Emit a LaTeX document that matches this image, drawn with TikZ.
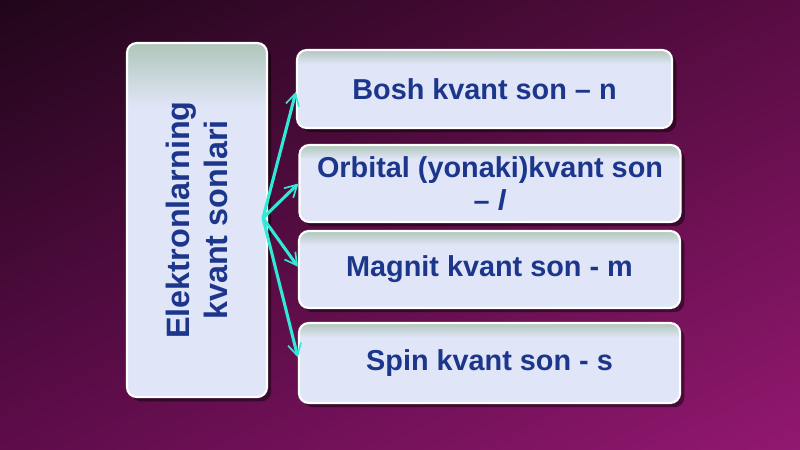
\documentclass[tikz,border=0pt]{standalone}
\usepackage{fontspec}
\setmainfont{Liberation Sans}
\usetikzlibrary{arrows.meta}
\usetikzlibrary{shadows,shadings}
\definecolor{bgdark}{RGB}{32,6,26}
\definecolor{bgright}{RGB}{88,12,66}
\definecolor{bgleft}{RGB}{94,12,74}
\definecolor{bglight}{RGB}{146,24,112}
\definecolor{boxfill}{RGB}{224,229,247}
\definecolor{boxtop}{RGB}{176,198,186}
\definecolor{textblue}{RGB}{28,54,140}
\definecolor{arrowcyan}{RGB}{50,232,214}
\pgfdeclareverticalshading{boxshade}{100bp}{color(0bp)=(boxfill); color(25bp)=(boxfill); color(66bp)=(boxfill); color(75bp)=(boxtop); color(100bp)=(boxtop)}

\begin{document}
\begin{tikzpicture}[x=0.025cm,y=-0.025cm]
\tikzset{kbox/.style={draw=white,line width=1.5pt,rounded corners=7pt,shading=boxshade,drop shadow={shadow xshift=3pt,shadow yshift=-3pt,opacity=0.45,fill=black},inner sep=0pt},
ktext/.style={text=textblue,font=\bfseries\fontsize{20.5}{23.5}\selectfont,align=center},
karrow/.style={draw=arrowcyan,line width=2.2pt,-{Straight Barb[length=8.5pt,width=9.5pt,line width=1.2pt]}}}

\shade[upper left=bgdark,upper right=bgright,lower left=bgleft,lower right=bglight] (0,0) rectangle (800,449);

\node[kbox,minimum width=3.5cm,minimum height=8.85cm] (kvant) at (197,220) {};
\node[ktext,rotate=90,font=\bfseries\fontsize{23}{27}\selectfont] (kvanttxt) at (kvant) {Elektronlarning\\kvant sonlari};

\node[kbox,ktext,minimum width=9.375cm,minimum height=1.95cm] (bosh) at (484.5,89) {Bosh kvant son – n};
\node[kbox,ktext,minimum width=9.525cm,minimum height=1.925cm] (orbital) at (490,183.5) {Orbital (yonaki)kvant son\\– \textit{l}};
\node[kbox,ktext,minimum width=9.525cm,minimum height=1.925cm] (magnit) at (489.5,269.5) {Magnit kvant son - m};
\node[kbox,ktext,minimum width=9.525cm,minimum height=2cm] (spin) at (489.5,363) {Spin kvant son - s};

\coordinate (hub) at (263,218);
\draw[karrow] (hub) -- ([yshift=-2pt]bosh.west);
\draw[karrow] (hub) -- (orbital.west);
\draw[karrow] (hub) -- ([yshift=2pt]magnit.west);
\draw[karrow] (hub) -- ([yshift=4pt]spin.west);
\end{tikzpicture}
\end{document}
